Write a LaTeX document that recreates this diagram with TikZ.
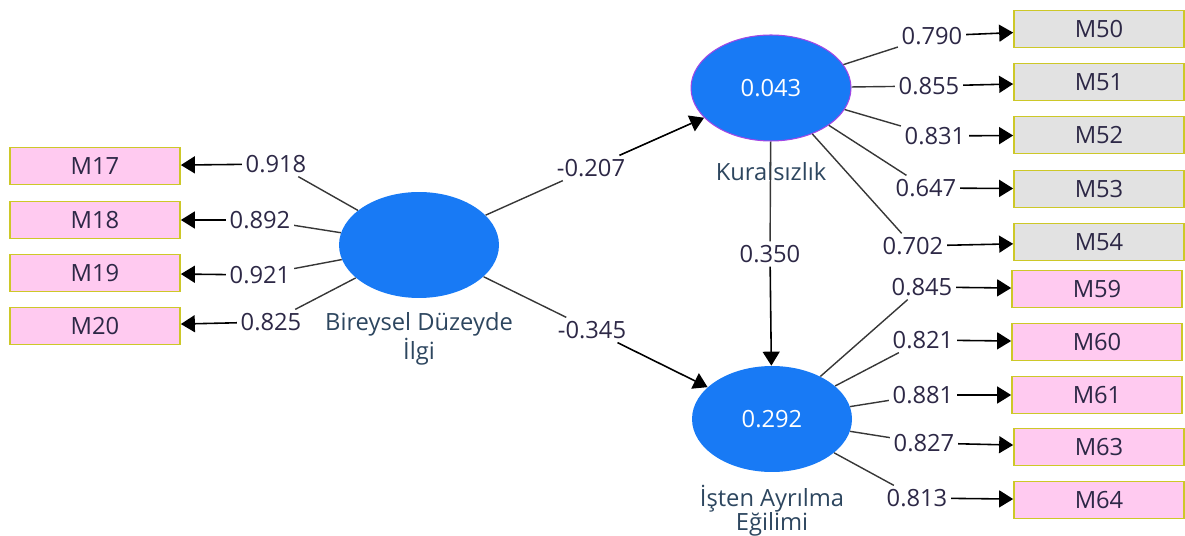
\documentclass[tikz,border=0pt]{standalone}
\usepackage{fontspec}
\setmainfont{Open Sans}
\usetikzlibrary{positioning,shapes.geometric,arrows.meta}
\definecolor{LVBlue}{RGB}{24,122,245}
\definecolor{IndPink}{RGB}{255,202,240}
\definecolor{IndGray}{RGB}{226,226,226}
\definecolor{IndEdge}{RGB}{205,200,40}
\definecolor{LineGray}{RGB}{55,55,55}
\definecolor{TextDark}{RGB}{45,40,70}
\definecolor{LVText}{RGB}{45,70,95}
\definecolor{LVEdge}{RGB}{160,70,230}
\newcommand\pfont{\fontsize{13.5}{13.5}\selectfont}
\tikzset{
    latent/.style={ellipse, fill=LVBlue, minimum width=3.2cm, minimum height=2.12cm, inner sep=0pt, text=white, font=\pfont},
    indic/.style={rectangle, draw=IndEdge, line width=1pt, minimum width=3.4cm, minimum height=0.74cm, inner sep=0pt, text=TextDark, font=\pfont},
    pinkind/.style={indic, fill=IndPink},
    grayind/.style={indic, fill=IndGray},
    coef/.style={inner sep=2pt, text=TextDark, font=\pfont},
    lvname/.style={text=LVText, align=center, font=\pfont, inner sep=0pt},
    link/.style={draw=LineGray, line width=0.8pt},
    path arrow/.style={draw=black, line width=0.9pt, -{Triangle[length=2.8mm,width=3.4mm]}}
}

\begin{document}
\begin{tikzpicture}[x=0.02cm, y=-0.02cm]
    \useasboundingbox (0,0) rectangle (1185,536);

    % latent variables
    \node[latent] (bdi) at (419,245) {};
    \node[latent, draw=LVEdge, line width=0.6pt] (kur) at (771,88) {0.043};
    \node[latent] (iae) at (772,419) {0.292};
    \node[lvname] at (419,339) {Bireysel Düzeyde\\İlgi};
    \node[lvname] at (771,172) {Kuralsızlık};
    \node[lvname] at (772,511) {İşten Ayrılma\\Eğilimi};

    % indicators of Bireysel Duzeyde Ilgi
    \node[pinkind] (m17) at (95,166) {M17};
    \node[pinkind] (m18) at (95,220) {M18};
    \node[pinkind] (m19) at (95,273) {M19};
    \node[pinkind] (m20) at (95,326) {M20};
    \node[coef] (c17) at (276,164) {0.918};
    \node[coef] (c18) at (260,220) {0.892};
    \node[coef] (c19) at (260,275) {0.921};
    \node[coef] (c20) at (271,322) {0.825};

    % indicators of Kuralsizlik
    \node[grayind] (m50) at (1099,29) {M50};
    \node[grayind] (m51) at (1099,82) {M51};
    \node[grayind] (m52) at (1099,135) {M52};
    \node[grayind] (m53) at (1099,189) {M53};
    \node[grayind] (m54) at (1099,242) {M54};
    \node[coef] (c50) at (932,36) {0.790};
    \node[coef] (c51) at (929,86) {0.855};
    \node[coef] (c52) at (935,136) {0.831};
    \node[coef] (c53) at (926,188) {0.647};
    \node[coef] (c54) at (913,246) {0.702};

    % indicators of Isten Ayrilma Egilimi
    \node[pinkind] (m59) at (1097,289) {M59};
    \node[pinkind] (m60) at (1097,342) {M60};
    \node[pinkind] (m61) at (1097,395) {M61};
    \node[pinkind] (m63) at (1099,447) {M63};
    \node[pinkind] (m64) at (1099,500) {M64};
    \node[coef] (c59) at (922,287) {0.845};
    \node[coef] (c60) at (923,340) {0.821};
    \node[coef] (c61) at (923,395) {0.881};
    \node[coef] (c63) at (924,443) {0.827};
    \node[coef] (c64) at (917,498) {0.813};

    % path coefficients
    \node[coef] (p1) at (591,168) {-0.207};
    \node[coef] (p2) at (592,330) {-0.345};
    \node[coef] (p3) at (770,254) {0.350};

    \foreach \m in {17,18,19,20} {
        \draw[link] (bdi) -- (c\m);
        \draw[path arrow] (c\m) -- (m\m);
    }
    \foreach \m in {50,51,52,53,54} {
        \draw[link] (kur) -- (c\m);
        \draw[path arrow] (c\m) -- (m\m);
    }
    \foreach \m in {59,60,61,63,64} {
        \draw[link] (iae) -- (c\m);
        \draw[path arrow] (c\m) -- (m\m);
    }

    \draw[link] (bdi) -- (p1);
    \draw[path arrow] (p1) -- (kur);
    \draw[link] (bdi) -- (p2);
    \draw[path arrow] (p2) -- (iae);
    \draw[link] (kur) -- (p3);
    \draw[path arrow] (p3) -- (iae);
\end{tikzpicture}
\end{document}
